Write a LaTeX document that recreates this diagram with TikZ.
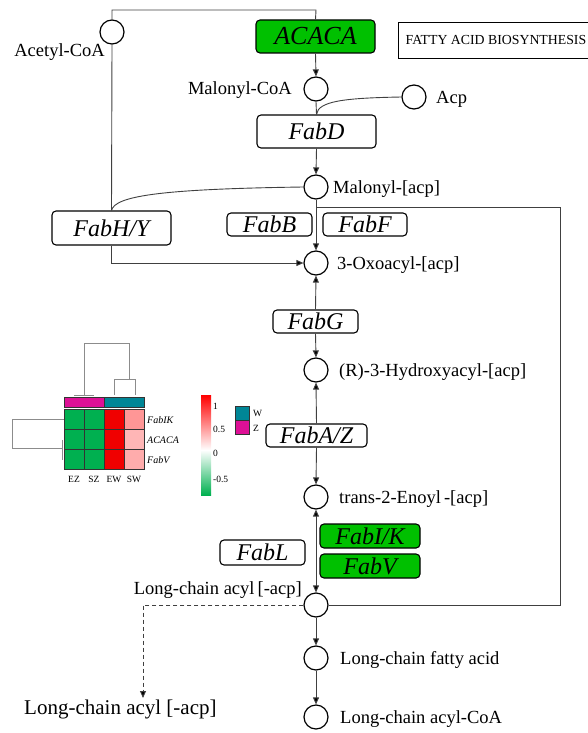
\documentclass[tikz,border=0pt]{standalone}
\usepackage{fontspec}
\setmainfont{Liberation Serif}
\usetikzlibrary{arrows.meta}
\definecolor{gene}{RGB}{0,192,0}
\definecolor{hgreen}{RGB}{0,176,80}
\definecolor{hred}{RGB}{240,0,0}
\definecolor{mag}{RGB}{222,16,150}
\definecolor{tealc}{RGB}{0,134,150}
\definecolor{swa}{RGB}{255,150,150}
\definecolor{swb}{RGB}{255,182,182}
\definecolor{swc}{RGB}{255,172,172}
\begin{document}
\begin{tikzpicture}[x=1pt,y=-1pt,
 met/.style={circle,draw,line width=1.2pt,minimum size=24pt,inner sep=0pt},
 genebox/.style={draw,rounded corners=4pt,line width=1.1pt,inner sep=0pt,font=\fontsize{24}{24}\selectfont\itshape},
 lab/.style={inner sep=0pt,font=\fontsize{18.5}{18.5}\selectfont},
 conn/.style={line width=0.9pt,draw=black!75},
 arr/.style={conn,-{Triangle[length=7pt,width=6pt,fill=black]}},
 dend/.style={draw=black!45,line width=0.9pt},
 hmlab/.style={inner sep=0pt,font=\fontsize{9.5}{9.5}\selectfont},
 cell/.style={draw=black!80,line width=0.5pt},
]
\useasboundingbox (0,0) rectangle (588,733);

% ---- metabolites
\node[met] (acetyl) at (112,32) {};
\node[met] (malcoa) at (316,89) {};
\node[met] (acp) at (414,97) {};
\node[met] (malacp) at (316,187) {};
\node[met] (oxo) at (316,263) {};
\node[met] (hydroxy) at (316,370) {};
\node[met] (enoyl) at (316,497) {};
\node[met] (lcacyl) at (316,605) {};
\node[met] (lcfa) at (316,658) {};
\node[met] (lccoa) at (316,717) {};

\node[lab,anchor=base east] (tacetyl) at (105,57) {Acetyl-CoA};
\node[lab,anchor=base east] (tmalcoa) at (292,95) {Malonyl-CoA};
\node[lab,anchor=base west] (tacp) at (436,103) {Acp};
\node[lab,anchor=base west] (tmalacp) at (333,193) {Malonyl-[acp]};
\node[lab,anchor=base west] (toxo) at (337,269) {3-Oxoacyl-[acp]};
\node[lab,anchor=base west] (thyd) at (339,376) {(R)-3-Hydroxyacyl-[acp]};
\node[lab,anchor=base west] (tenoyl) at (339,503) {trans-2-Enoyl\,-[acp]};
\node[lab,anchor=base east] (tlcacyl) at (302,594) {Long-chain acyl\,[-acp]};
\node[lab,anchor=base west] (tlcfa) at (340,664) {Long-chain fatty acid};
\node[lab,anchor=base west] (tlccoa) at (340,723) {Long-chain acyl-CoA};
\node[lab,anchor=base west,font=\fontsize{21}{21}\selectfont] (tlcacyl2) at (24,714) {Long-chain acyl [-acp]};

% ---- genes
\node[genebox,fill=gene,minimum width=119pt,minimum height=33pt,font=\fontsize{26}{26}\selectfont\itshape] (acaca) at (315.5,36.5) {ACACA};
\node[draw,line width=0.9pt,anchor=west,minimum height=36pt,minimum width=215pt,inner xsep=7pt,inner ysep=0pt,align=left,font=\fontsize{13.8}{13.8}\selectfont] (title) at (398,40) {FATTY ACID BIOSYNTHESIS\hspace*{20pt}};
\node[genebox,minimum width=119pt,minimum height=33pt] (fabd) at (316.5,131.5) {FabD};
\node[genebox,minimum width=119pt,minimum height=34pt] (fabh) at (111.5,228) {FabH/Y};
\node[genebox,minimum width=85pt,minimum height=23pt] (fabb) at (269.5,224.5) {FabB};
\node[genebox,minimum width=84pt,minimum height=23pt] (fabf) at (365,224.5) {FabF};
\node[genebox,minimum width=85pt,minimum height=23pt] (fabg) at (315.5,321.5) {FabG};
\node[genebox,minimum width=101pt,minimum height=23pt] (faba) at (316.5,435.5) {FabA/Z};
\node[genebox,fill=gene,minimum width=100pt,minimum height=24pt] (fabi) at (370,536) {FabI/K};
\node[genebox,fill=gene,minimum width=100pt,minimum height=24pt] (fabv) at (370,566) {FabV};
\node[genebox,minimum width=85pt,minimum height=25pt] (fabl) at (262.5,552.5) {FabL};

% ---- connectors
\coordinate (tc) at (316,10);
\coordinate (br) at (316,207);
\coordinate (rc) at (560,207);
\coordinate (dc) at (143,698);
\draw[conn] (acetyl.north) |- (tc) -- (acaca.north);
\draw[arr] (acaca.south) -- (malcoa.north);
\draw[conn] (malcoa.south) -- (fabd.north);
\draw[conn] (acp.west) .. controls (345,98) and (318,101) .. (fabd.north);
\draw[arr] (fabd.south) -- (malacp.north);
\draw[arr] (malacp.south) -- (oxo.north);
\draw[conn] (malacp.west) .. controls (160,189) and (115,196) .. (fabh.north);
\draw[conn] (acetyl.south) -- (fabh.north);
\draw[arr] (fabh.south) |- (oxo.west);
\draw[conn] (br) -- (rc) |- (lcacyl.east);
\draw[arr] (fabg.north) -- (oxo.south);
\draw[arr] (fabg.south) -- (hydroxy.north);
\draw[arr] (faba.north) -- (hydroxy.south);
\draw[arr] (faba.south) -- (enoyl.north);
\draw[conn,{Triangle[length=7pt,width=6pt,fill=black]}-{Triangle[length=7pt,width=6pt,fill=black]}] (enoyl.south) -- (lcacyl.north);
\draw[arr,dashed,dash pattern=on 4pt off 3pt] (lcacyl.west) -| (dc);
\draw[arr] (lcacyl.south) -- (lcfa.north);
\draw[arr] (lcfa.south) -- (lccoa.north);

% ---- heatmap
\foreach \c [count=\i from 0] in {mag,mag,tealc,tealc}
  \fill[\c] (64+20*\i,397) rectangle (84+20*\i,407);
\draw[cell] (64,397) rectangle (144,407);
\draw[cell] (104,397) -- (104,407);
\foreach \c [count=\i from 0] in {hgreen,hgreen,hred,swa}
  \filldraw[cell,fill=\c] (64+20*\i,409) rectangle (84+20*\i,429);
\foreach \c [count=\i from 0] in {hgreen,hgreen,hred,swb}
  \filldraw[cell,fill=\c] (64+20*\i,429) rectangle (84+20*\i,449);
\foreach \c [count=\i from 0] in {hgreen,hgreen,hred,swc}
  \filldraw[cell,fill=\c] (64+20*\i,449) rectangle (84+20*\i,469);
% column dendrogram
\draw[dend] (84,395) -- (84,343) -- (129,343) -- (129,379);
\draw[dend] (114,395) -- (114,379) -- (135,379) -- (135,395);
\draw[dend] (74,395) -- (94,395);
% row dendrogram
\draw[dend] (64,419) -- (12,419) -- (12,448) -- (62,448);
\draw[dend] (62,440) -- (62,460);
% labels
\node[hmlab,font=\fontsize{10}{10}\selectfont\itshape,anchor=base west] (rl1) at (147,423) {FabIK};
\node[hmlab,font=\fontsize{10}{10}\selectfont\itshape,anchor=base west] (rl2) at (147,443.5) {ACACA};
\node[hmlab,font=\fontsize{10}{10}\selectfont\itshape,anchor=base west] (rl3) at (147,463.5) {FabV};
\node[hmlab,anchor=base] (cl1) at (74,482) {EZ};
\node[hmlab,anchor=base] (cl2) at (94,482) {SZ};
\node[hmlab,anchor=base] (cl3) at (114,482) {EW};
\node[hmlab,anchor=base] (cl4) at (134,482) {SW};
% colour scale
\shade[top color=red,bottom color=white] (201,395) rectangle (211,450);
\shade[top color=white,bottom color=hgreen] (201,450) rectangle (211,495);
\node[hmlab,anchor=west] (s1) at (213,406) {1};
\node[hmlab,anchor=west] (s2) at (213,429) {0.5};
\node[hmlab,anchor=west] (s3) at (213,453) {0};
\node[hmlab,anchor=west] (s4) at (213,479) {-0.5};
% legend
\filldraw[cell,fill=tealc] (235,406) rectangle (249,420);
\filldraw[cell,fill=mag] (235,420) rectangle (249,434);
\node[hmlab,anchor=west] (lw) at (253,413) {W};
\node[hmlab,anchor=west] (lz) at (253,428) {Z};
\end{tikzpicture}
\end{document}
